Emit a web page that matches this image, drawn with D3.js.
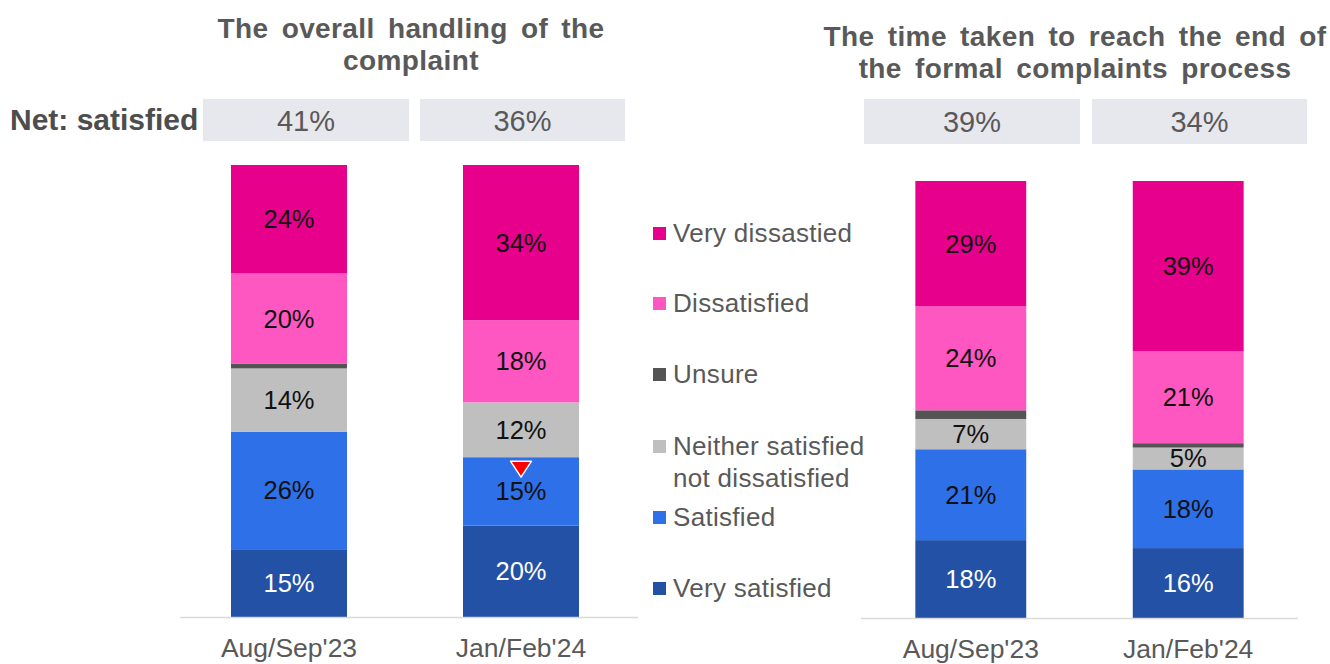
<!DOCTYPE html>
<html>
<head>
<meta charset="utf-8">
<script src="https://cdn.jsdelivr.net/npm/d3@7"></script>
<style>
  html, body { margin: 0; padding: 0; background: #fff; }
  svg { display: block; font-family: "Liberation Sans", Arial, sans-serif; }
</style>
</head>
<body>
<svg id="chart" width="1330" height="664"></svg>
<script>
// Survey waves
const periods = ["Aug/Sep'23", "Jan/Feb'24"];

// Response keys, stacked from the bottom up
const responseKeys = ["verySatisfied", "satisfied", "neither", "unsure", "dissatisfied", "veryDissatisfied"];

// Legend entries, top to bottom
const legendLabels = [
  ["Very dissastied"],
  ["Dissatisfied"],
  ["Unsure"],
  ["Neither satisfied", "not dissatisfied"],
  ["Satisfied"],
  ["Very satisfied"]
];
const legendKeys = ["veryDissatisfied", "dissatisfied", "unsure", "neither", "satisfied", "verySatisfied"];

// The overall handling of the complaint (%)
const handlingVerySatisfied = [15, 20];
const handlingSatisfied = [26, 15];
const handlingNeither = [14, 12];
const handlingUnsure = [1, 0];
const handlingDissatisfied = [20, 18];
const handlingVeryDissatisfied = [24, 34];
const handlingNet = [41, 36];

// The time taken to reach the end of the formal complaints process (%)
const timeVerySatisfied = [18, 16];
const timeSatisfied = [21, 18];
const timeNeither = [7, 5];
const timeUnsure = [2, 1];
const timeDissatisfied = [24, 21];
const timeVeryDissatisfied = [29, 39];
const timeNet = [39, 34];

// Significant decreases: [series key, period]
const handlingDecreases = [["satisfied", "Jan/Feb'24"]];
const timeDecreases = [];

const colours = {
  veryDissatisfied: "#E6008C",
  dissatisfied: "#FF57C1",
  unsure: "#545454",
  neither: "#BFBFBF",
  satisfied: "#2E70E8",
  verySatisfied: "#2251A6"
};
const labelColours = {
  veryDissatisfied: "#111", dissatisfied: "#111", unsure: "#111",
  neither: "#111", satisfied: "#111", verySatisfied: "#fff"
};

const svg = d3.select("#chart");
const textGrey = "#595959";

function rows(vs, s, n, u, d, vd) {
  return periods.map((p, i) => ({
    period: p,
    verySatisfied: vs[i], satisfied: s[i], neither: n[i],
    unsure: u[i], dissatisfied: d[i], veryDissatisfied: vd[i]
  }));
}

function drawPanel(cfg) {
  const data = rows(...cfg.series);
  // 100% stacked: each bar is scaled to its own total
  const stacked = d3.stack().keys(responseKeys).offset(d3.stackOffsetExpand)(data);

  const x = d3.scaleBand().domain(periods).range(cfg.xRange)
    .paddingInner(cfg.paddingInner).paddingOuter(0.25);
  const y = d3.scaleLinear().domain([0, 1]).range(cfg.yRange);

  const g = svg.append("g");

  // Title
  cfg.title.forEach((line, i) => {
    g.append("text")
      .attr("x", cfg.titleX).attr("y", cfg.titleY + i * 32)
      .attr("text-anchor", "middle")
      .attr("font-size", 28).attr("font-weight", "bold")
      .attr("letter-spacing", 0.4).attr("word-spacing", 5)
      .attr("fill", textGrey)
      .text(line);
  });

  // Net satisfied boxes
  const boxes = g.selectAll("g.net").data(periods).join("g").attr("class", "net");
  boxes.append("rect")
    .attr("x", (p, i) => cfg.netBoxes[i][0])
    .attr("width", (p, i) => cfg.netBoxes[i][1] - cfg.netBoxes[i][0])
    .attr("y", cfg.netY[0]).attr("height", cfg.netY[1] - cfg.netY[0])
    .attr("fill", "#E7E7EE");
  boxes.append("text")
    .attr("x", (p, i) => (cfg.netBoxes[i][0] + cfg.netBoxes[i][1]) / 2)
    .attr("y", (cfg.netY[0] + cfg.netY[1]) / 2 + 10.5)
    .attr("text-anchor", "middle")
    .attr("font-size", 29).attr("fill", textGrey)
    .text((p, i) => cfg.net[i] + "%");

  // Stacked bars
  const layers = g.selectAll("g.layer").data(stacked).join("g")
    .attr("class", "layer").attr("fill", d => colours[d.key]);
  layers.selectAll("rect").data(d => d).join("rect")
    .attr("x", d => x(d.data.period))
    .attr("width", x.bandwidth())
    .attr("y", d => y(d[1]))
    .attr("height", d => y(d[0]) - y(d[1]));

  // Segment value labels
  stacked.filter(s => s.key !== "unsure").forEach(s => {
    g.append("g").selectAll("text").data(s).join("text")
      .attr("x", d => x(d.data.period) + x.bandwidth() / 2)
      .attr("y", d => (y(d[0]) + y(d[1])) / 2 + 9)
      .attr("text-anchor", "middle")
      .attr("font-size", 25.5)
      .attr("fill", labelColours[s.key])
      .text(d => d.data[s.key] + "%");
  });

  // Significant decrease markers
  cfg.decreases.forEach(([key, period]) => {
    const layer = stacked.find(s => s.key === key);
    const seg = layer.find(d => d.data.period === period);
    const cx = x(period) + x.bandwidth() / 2;
    const top = y(seg[1]) + 4;
    g.append("path")
      .attr("d", `M${cx - 10.5},${top} L${cx + 10.5},${top} L${cx},${top + 16} Z`)
      .attr("fill", "#FF0000").attr("stroke", "#fff").attr("stroke-width", 1.5)
      .attr("stroke-linejoin", "round");
  });

  // Category axis
  const axis = g.append("g")
    .attr("transform", `translate(0,${cfg.yRange[0]})`)
    .call(d3.axisBottom(x).tickSize(0).tickPadding(21).tickSizeOuter(0));
  axis.select(".domain").remove();
  axis.append("line")
    .attr("x1", cfg.axisX[0]).attr("x2", cfg.axisX[1])
    .attr("y1", 0.5).attr("y2", 0.5)
    .attr("stroke", "#D9D9D9").attr("stroke-width", 1.5);
  axis.selectAll(".tick text")
    .attr("font-size", 26.5).attr("fill", textGrey)
    .attr("font-family", "Liberation Sans, Arial, sans-serif");
}

drawPanel({
  series: [handlingVerySatisfied, handlingSatisfied, handlingNeither,
           handlingUnsure, handlingDissatisfied, handlingVeryDissatisfied],
  net: handlingNet,
  decreases: handlingDecreases,
  title: ["The overall handling of the", "complaint"],
  titleX: 411, titleY: 38,
  netBoxes: [[203, 409], [420, 625]], netY: [99, 141],
  xRange: [173, 637], paddingInner: 0.5,
  yRange: [617, 165],
  axisX: [180, 638]
});

drawPanel({
  series: [timeVerySatisfied, timeSatisfied, timeNeither,
           timeUnsure, timeDissatisfied, timeVeryDissatisfied],
  net: timeNet,
  decreases: timeDecreases,
  title: ["The time taken to reach the end of", "the formal complaints process"],
  titleX: 1075, titleY: 46,
  netBoxes: [[864, 1080], [1092, 1307]], netY: [99, 144],
  xRange: [861, 1298], paddingInner: 0.49,
  yRange: [618, 181],
  axisX: [861, 1298]
});

// Row label for the net satisfied boxes
svg.append("text")
  .attr("x", 10).attr("y", 130)
  .attr("font-size", 30).attr("font-weight", "bold")
  .attr("fill", "#4D4D4D")
  .text("Net: satisfied");

// Shared legend
const legendY = [233, 303, 374, 446, 517, 588];
const legend = svg.append("g").selectAll("g").data(legendKeys).join("g")
  .attr("transform", (k, i) => `translate(653,${legendY[i]})`);
legend.append("rect")
  .attr("x", 0).attr("y", -6).attr("width", 13).attr("height", 13)
  .attr("fill", k => colours[k]);
legend.each(function (k, i) {
  legendLabels[i].forEach((line, j) => {
    d3.select(this).append("text")
      .attr("x", 20).attr("y", 9 + j * 32)
      .attr("font-size", 26).attr("letter-spacing", 0.3)
      .attr("fill", textGrey)
      .text(line);
  });
});
</script>
</body>
</html>
